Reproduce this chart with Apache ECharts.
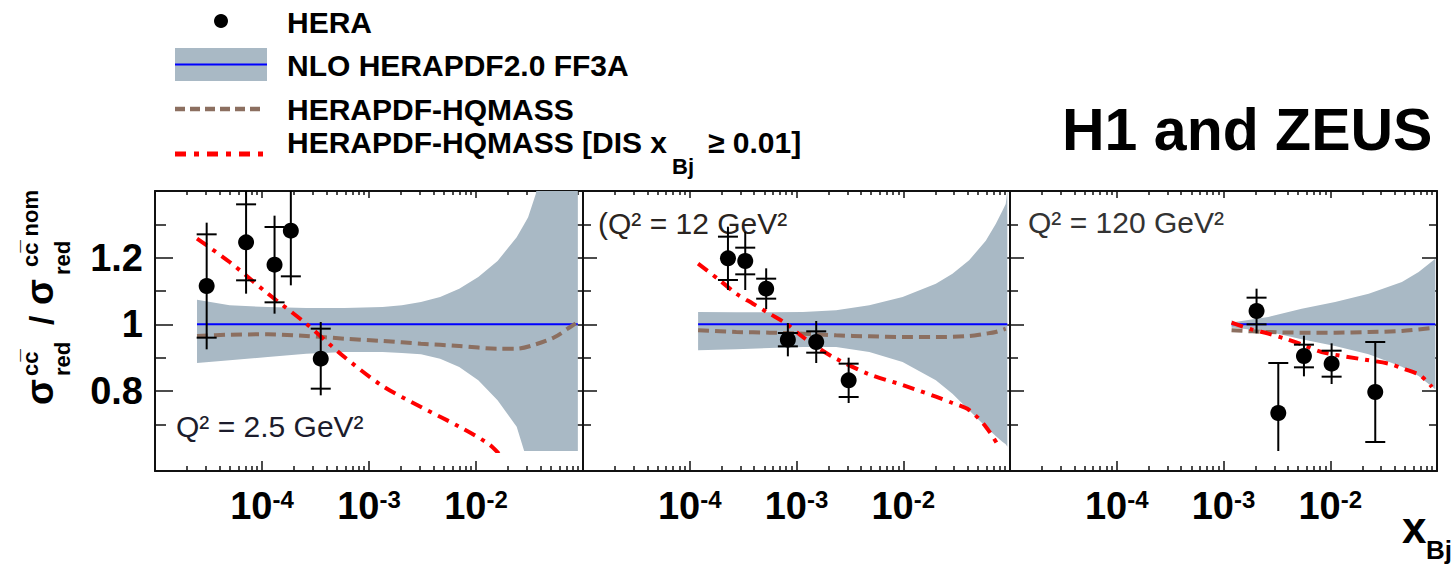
<!DOCTYPE html>
<html><head><meta charset="utf-8">
<script src="https://cdn.jsdelivr.net/npm/echarts@6/dist/echarts.min.js"></script>
<style>html,body{margin:0;padding:0;background:#fff}#c{width:1451px;height:566px}</style>
</head><body><div id="c"></div>
<script>
// ================= DATA =================
const panelLabels = ['Q\u00B2 = 2.5 GeV\u00B2', '(Q\u00B2 = 12 GeV\u00B2', 'Q\u00B2 = 120 GeV\u00B2'];
const legendLabels = ['HERA', 'NLO HERAPDF2.0 FF3A', 'HERAPDF-HQMASS', 'HERAPDF-HQMASS [DIS x', 'Bj', '\u2265 0.01]'];
const chartTitle = 'H1 and ZEUS';
const xTickValues = [1e-4, 1e-3, 1e-2];
const xTickExponents = ['-4', '-3', '-2'];
const yMajorTicks = [0.8, 1.0, 1.2];
const yTickLabels = ['0.8', '1', '1.2'];
const yMinorTicks = [0.7, 0.9, 1.1, 1.3];
const nomRatio = 1;

// Q2 = 2.5
const p1PointX = [3.04e-5, 7.1e-5, 1.31e-4, 1.86e-4, 3.54e-4];
const p1PointY = [1.115, 1.246, 1.179, 1.281, 0.897];
const p1PointStat = [0.155, 0.114, 0.113, 0.137, 0.09];
const p1PointTot = [0.19, 0.154, 0.147, 0.164, 0.11];
const p1BandX = [2.47e-5, 4.98e-5, 1.135e-4, 2.59e-4, 5.89e-4, 1.34e-3, 2.03e-3, 3.06e-3, 4.62e-3, 6.97e-3, 1.05e-2, 1.59e-2, 2.40e-2, 2.82e-2, 3.07e-2, 3.62e-2, 8.95e-2];
const p1BandHi = [1.074, 1.057, 1.052, 1.049, 1.049, 1.052, 1.057, 1.067, 1.082, 1.107, 1.142, 1.19, 1.261, 1.30, 1.321, 1.391, 2.2];
const p1BandLo = [0.884, 0.892, 0.902, 0.912, 0.917, 0.917, 0.914, 0.91, 0.897, 0.872, 0.832, 0.772, 0.693, 0.62, 0.58, 0.5, 0.2];
const p1HqX = [2.47e-5, 4.98e-5, 1.135e-4, 2.59e-4, 5.89e-4, 1.34e-3, 3.06e-3, 6.97e-3, 1.59e-2, 2.40e-2, 3.62e-2, 5.46e-2, 7.59e-2, 8.95e-2];
const p1HqY = [0.965, 0.969, 0.97, 0.965, 0.957, 0.95, 0.942, 0.935, 0.927, 0.927, 0.94, 0.962, 0.992, 1.007];
const p1DisX = [2.47e-5, 4.98e-5, 1.135e-4, 2.59e-4, 5.89e-4, 1.34e-3, 3.06e-3, 6.97e-3, 1.35e-2, 1.88e-2];
const p1DisY = [1.257, 1.187, 1.092, 1.002, 0.902, 0.815, 0.752, 0.693, 0.638, 0.59];

// Q2 = 12
const p2PointX = [2.28e-4, 3.31e-4, 5.2e-4, 8.3e-4, 1.53e-3, 3.08e-3];
const p2PointY = [1.198, 1.19, 1.107, 0.954, 0.947, 0.832];
const p2PointStat = [0.065, 0.04, 0.03, 0.02, 0.032, 0.05];
const p2PointTot = [0.095, 0.087, 0.061, 0.05, 0.063, 0.068];
const p2BandX = [1.197e-4, 2.73e-4, 5.60e-4, 1.146e-3, 2.35e-3, 4.81e-3, 9.86e-3, 2.02e-2, 2.89e-2, 4.14e-2, 5.93e-2, 7.35e-2, 8.47e-2, 9.12e-2, 9.44e-2];
const p2BandHi = [1.037, 1.036, 1.036, 1.037, 1.042, 1.057, 1.082, 1.122, 1.152, 1.192, 1.251, 1.301, 1.34, 1.361, 1.40];
const p2BandLo = [0.922, 0.925, 0.929, 0.932, 0.932, 0.917, 0.887, 0.832, 0.792, 0.742, 0.693, 0.665, 0.648, 0.64, 0.633];
const p2HqX = [1.197e-4, 2.73e-4, 5.60e-4, 1.146e-3, 2.35e-3, 4.81e-3, 9.86e-3, 2.02e-2, 4.14e-2, 5.93e-2, 7.35e-2, 9.12e-2];
const p2HqY = [0.982, 0.977, 0.975, 0.972, 0.967, 0.964, 0.962, 0.962, 0.965, 0.972, 0.977, 0.987];
const p2DisX = [1.197e-4, 1.91e-4, 2.73e-4, 3.91e-4, 5.60e-4, 8.02e-4, 1.146e-3, 1.64e-3, 2.35e-3, 4.81e-3, 9.86e-3, 2.02e-2, 2.89e-2, 4.14e-2, 5.93e-2, 7.88e-2];
const p2DisY = [1.182, 1.132, 1.092, 1.062, 1.032, 1.002, 0.962, 0.927, 0.897, 0.85, 0.818, 0.783, 0.764, 0.743, 0.693, 0.633];

// Q2 = 120
const p3PointX = [2.04e-3, 3.26e-3, 5.67e-3, 1.03e-2, 2.64e-2];
const p3PointY = [1.04, 0.734, 0.905, 0.882, 0.797];
const p3PointStat = [0.04, 0.15, 0.034, 0.039, 0.15];
const p3PointTot = [0.067, 0.15, 0.061, 0.061, 0.15];
const p3BandX = [1.19e-3, 1.28e-3, 2.63e-3, 5.40e-3, 1.11e-2, 2.29e-2, 4.69e-2, 6.73e-2, 9.64e-2];
const p3BandHi = [1.012, 1.007, 1.022, 1.047, 1.067, 1.092, 1.127, 1.157, 1.197];
const p3BandLo = [0.99, 0.99, 0.978, 0.955, 0.935, 0.91, 0.873, 0.845, 0.805];
const p3HqX = [1.19e-3, 2.63e-3, 5.40e-3, 1.11e-2, 2.29e-2, 4.69e-2, 9.64e-2];
const p3HqY = [0.982, 0.977, 0.975, 0.975, 0.977, 0.98, 0.99];
const p3DisX = [1.19e-3, 1.83e-3, 2.63e-3, 3.77e-3, 5.40e-3, 8.3e-3, 1.84e-2, 3.52e-2, 5.04e-2, 6.97e-2, 8.97e-2];
const p3DisY = [1.005, 0.985, 0.972, 0.957, 0.94, 0.917, 0.897, 0.882, 0.865, 0.847, 0.812];

// ================= STYLE / LAYOUT =================
const FONT = '"Liberation Sans", Arial, Helvetica, sans-serif';
const BAND = '#a9b9c5', BLUE = '#0000ff', BROWN = '#8c6f60', RED = '#ff0000', AX = '#111';
const panelLeft = [155, 583, 1010], panelRight = [583, 1010, 1437];
const plotTop = 191, plotBottom = 451, axisBottom = 471;
const yRange = [0.62, 1.4];
const lg = Math.log10;

const panels = [
  {label: panelLabels[0], ptX: p1PointX, ptY: p1PointY, st: p1PointStat, tot: p1PointTot, bX: p1BandX, bHi: p1BandHi, bLo: p1BandLo, hqX: p1HqX, hqY: p1HqY, dX: p1DisX, dY: p1DisY},
  {label: panelLabels[1], ptX: p2PointX, ptY: p2PointY, st: p2PointStat, tot: p2PointTot, bX: p2BandX, bHi: p2BandHi, bLo: p2BandLo, hqX: p2HqX, hqY: p2HqY, dX: p2DisX, dY: p2DisY},
  {label: panelLabels[2], ptX: p3PointX, ptY: p3PointY, st: p3PointStat, tot: p3PointTot, bX: p3BandX, bHi: p3BandHi, bLo: p3BandLo, hqX: p3HqX, hqY: p3HqY, dX: p3DisX, dY: p3DisY}
];

const minorX = [];
for (let n = -5; n <= -2; n++) for (let k = 2; k <= 9; k++) minorX.push(n + lg(k));

const grids = [], xAxes = [], yAxes = [], series = [];
const tickStyle = {color: AX, width: 1.5};
const noSplit = {show: false};

function xFmt(v) {
  const i = xTickValues.findIndex(t => Math.abs(lg(t) - v) < 1e-6);
  return i < 0 ? '' : '{b|10}{s|' + xTickExponents[i] + '}';
}
function yFmt(v) {
  const i = yMajorTicks.findIndex(t => Math.abs(t - v) < 1e-6);
  return i < 0 ? '' : yTickLabels[i];
}
const pairs = (xs, ys) => xs.map((x, i) => [lg(x), ys[i]]);

panels.forEach((P, p) => {
  const L = panelLeft[p], W = panelRight[p] - L;
  const gMain = grids.length;
  grids.push({left: L, top: plotTop, width: W, height: plotBottom - plotTop, outerBoundsMode: 'none', containLabel: false});
  const gStrip = grids.length;
  grids.push({left: L, top: plotBottom, width: W, height: axisBottom - plotBottom, outerBoundsMode: 'none', containLabel: false});

  const xBase = {type: 'value', min: -5, max: -1, interval: 1, splitLine: noSplit};
  const xMain = xAxes.length;
  xAxes.push(Object.assign({}, xBase, {gridIndex: gMain, position: 'top',
    axisLine: {show: true, lineStyle: {color: AX, width: 2}},
    axisTick: {show: true, inside: true, length: 7, lineStyle: tickStyle}, axisLabel: {show: false}}));
  xAxes.push(Object.assign({}, xBase, {gridIndex: gMain, position: 'top',
    axisLine: {show: false},
    axisTick: {show: true, inside: true, length: 4, customValues: minorX, lineStyle: tickStyle}, axisLabel: {show: false}}));
  xAxes.push(Object.assign({}, xBase, {gridIndex: gStrip, position: 'bottom',
    axisLine: {show: true, lineStyle: {color: AX, width: 2}},
    axisTick: {show: true, inside: true, length: 10, lineStyle: tickStyle},
    axisLabel: {show: true, margin: 16, formatter: xFmt, showMinLabel: true, showMaxLabel: true,
      rich: {b: {fontSize: 38, fontWeight: 'bold', fontFamily: FONT, color: '#000'},
             s: {fontSize: 24, fontWeight: 'bold', fontFamily: FONT, color: '#000', verticalAlign: 'top'}}}}));
  xAxes.push(Object.assign({}, xBase, {gridIndex: gStrip, position: 'bottom',
    axisLine: {show: false},
    axisTick: {show: true, inside: true, length: 5, customValues: minorX, lineStyle: tickStyle}, axisLabel: {show: false}}));

  const yBase = {type: 'value', min: yRange[0], max: yRange[1], splitLine: noSplit, gridIndex: gMain};
  const yMain = yAxes.length;
  yAxes.push(Object.assign({}, yBase, {position: 'left',
    axisLine: {show: true, lineStyle: {color: AX, width: 2}},
    axisTick: {show: true, inside: true, length: p === 0 ? 18 : 14, customValues: yMajorTicks, lineStyle: tickStyle},
    axisLabel: {show: p === 0, customValues: yMajorTicks, formatter: yFmt, margin: 12, fontSize: 38, fontWeight: 'bold', fontFamily: FONT, color: '#000'}}));
  yAxes.push(Object.assign({}, yBase, {position: 'left', axisLine: {show: false},
    axisTick: {show: true, inside: true, length: p === 0 ? 11 : 8, customValues: yMinorTicks, lineStyle: tickStyle}, axisLabel: {show: false}}));
  yAxes.push(Object.assign({}, yBase, {position: 'right',
    axisLine: {show: true, lineStyle: {color: AX, width: 2}},
    axisTick: {show: true, inside: true, length: p === 0 ? 18 : 15, customValues: yMajorTicks, lineStyle: tickStyle}, axisLabel: {show: false}}));
  yAxes.push(Object.assign({}, yBase, {position: 'right', axisLine: {show: false},
    axisTick: {show: true, inside: true, length: p === 0 ? 10 : 8, customValues: yMinorTicks, lineStyle: tickStyle}, axisLabel: {show: false}}));
  ['left', 'right'].forEach(pos => yAxes.push({type: 'value', gridIndex: gStrip, position: pos, min: 0, max: 1,
    axisLine: {show: true, lineStyle: {color: AX, width: 2}}, axisTick: {show: false}, axisLabel: {show: false}, splitLine: noSplit}));

  const ax = {xAxisIndex: xMain, yAxisIndex: yMain};
  // uncertainty band
  series.push(Object.assign({type: 'custom', name: legendLabels[1] + ' band', clip: true, silent: true, z: 1,
    encode: {x: 0, y: [1, 2]},
    data: P.bX.map((x, i) => [lg(x), P.bLo[i], P.bHi[i]]),
    renderItem: (params, api) => {
      if (params.dataIndex !== 0) return null;
      const pts = [];
      P.bX.forEach((x, i) => pts.push(api.coord([lg(x), P.bHi[i]])));
      for (let i = P.bX.length - 1; i >= 0; i--) pts.push(api.coord([lg(P.bX[i]), P.bLo[i]]));
      return {type: 'polygon', shape: {points: pts}, style: {fill: BAND}};
    }}, ax));
  // central
  series.push(Object.assign({type: 'line', name: legendLabels[1], symbol: 'none', z: 3, silent: true,
    data: [[lg(P.bX[0]), nomRatio], [lg(P.bX[P.bX.length - 1]), nomRatio]],
    lineStyle: {color: BLUE, width: 2}}, ax));
  series.push(Object.assign({type: 'line', name: legendLabels[2], symbol: 'none', z: 4, smooth: 0.3, silent: true,
    data: pairs(P.hqX, P.hqY), lineStyle: {color: BROWN, width: 4, type: [11, 6]}}, ax));
  series.push(Object.assign({type: 'line', name: legendLabels[3] + ' ' + legendLabels[4] + ' ' + legendLabels[5], symbol: 'none', z: 5, smooth: 0.3, silent: true,
    data: pairs(P.dX, P.dY), lineStyle: {color: RED, width: 4, type: [12, 7, 4, 7]}}, ax));
  // error bars
  series.push(Object.assign({type: 'custom', name: 'HERA errors', clip: true, z: 6, silent: true,
    encode: {x: 0, y: 1},
    data: P.ptX.map((x, i) => [lg(x), P.ptY[i], P.st[i], P.tot[i]]),
    renderItem: (params, api) => {
      const x = api.value(0), y = api.value(1), s = api.value(2), t = api.value(3);
      const a = api.coord([x, y + t]), b = api.coord([x, y - t]);
      const sh = api.coord([x, y + s]), sl = api.coord([x, y - s]);
      const st = {stroke: '#000', lineWidth: 2};
      return {type: 'group', children: [
        {type: 'line', shape: {x1: a[0], y1: a[1], x2: b[0], y2: b[1]}, style: st},
        {type: 'line', shape: {x1: sh[0] - 10, y1: sh[1], x2: sh[0] + 10, y2: sh[1]}, style: st},
        {type: 'line', shape: {x1: sl[0] - 10, y1: sl[1], x2: sl[0] + 10, y2: sl[1]}, style: st}
      ]};
    }}, ax));
  series.push(Object.assign({type: 'scatter', name: legendLabels[0], symbol: 'circle', symbolSize: 16, z: 7, silent: true,
    data: pairs(P.ptX, P.ptY), itemStyle: {color: '#000', opacity: 1}}, ax));
});

// ================= ANNOTATIONS =================
function txt(x, y, text, font, color, extra) {
  return Object.assign({type: 'text', x: x, y: y, silent: true,
    style: {text: text, font: font, fill: color || '#000', align: 'left', verticalAlign: 'middle', textAlign: 'left', textVerticalAlign: 'middle'}}, extra || {});
}
const B30 = 'bold 30px ' + FONT;
const cen = (base, fs) => base - 0.3465 * fs;
const graphics = [
  // legend
  {type: 'circle', shape: {cx: 221, cy: 21, r: 7}, style: {fill: '#000'}, silent: true},
  {type: 'rect', shape: {x: 175, y: 48, width: 92, height: 33}, style: {fill: BAND}, silent: true},
  {type: 'line', shape: {x1: 175, y1: 64.5, x2: 267, y2: 64.5}, style: {stroke: BLUE, lineWidth: 2}, silent: true},
  {type: 'line', shape: {x1: 175, y1: 109, x2: 265, y2: 109}, style: {stroke: BROWN, lineWidth: 4.5, lineDash: [10, 5]}, silent: true},
  {type: 'line', shape: {x1: 175, y1: 154, x2: 268, y2: 154}, style: {stroke: RED, lineWidth: 5, lineDash: [11, 8, 5, 8]}, silent: true},
  txt(287, 22.5, legendLabels[0], B30),
  txt(287, 65.5, legendLabels[1], B30),
  txt(287, 109, legendLabels[2], B30),
  txt(287, 142.5, legendLabels[3], B30),
  txt(672, 166.5, legendLabels[4], 'bold 22px ' + FONT),
  txt(708, 142.5, legendLabels[5], B30),
  // title
  txt(1062, 129.5, chartTitle, 'bold 59px ' + FONT),
  // panel labels
  txt(176, 426, panels[0].label, '30px ' + FONT, '#1c1c2c'),
  txt(598, 223, panels[1].label, '30px ' + FONT, '#2a2420'),
  txt(1028, 222, panels[2].label, '30px ' + FONT, '#333'),
  // x axis title
  txt(1402, 527, 'x', 'bold 44px ' + FONT),
  txt(1426, 550, 'Bj', 'bold 26px ' + FONT),
  // y axis title (rotated)
  {type: 'group', x: 53, y: 405, rotation: Math.PI / 2, silent: true, children: [
    txt(0, cen(0, 38), '\u03C3', 'bold 38px ' + FONT),
    txt(29, cen(-15, 22), 'cc\u0305', 'bold 22px ' + FONT),
    txt(29, cen(17, 22), 'red', 'bold 22px ' + FONT),
    txt(80, cen(0, 34), '/', 'bold 34px ' + FONT),
    txt(100, cen(0, 38), '\u03C3', 'bold 38px ' + FONT),
    txt(130, cen(17, 22), 'red', 'bold 22px ' + FONT),
    txt(138, cen(-15, 22), 'cc\u0305 nom', 'bold 22px ' + FONT)
  ]}
];

const chart = echarts.init(document.getElementById('c'), null, {renderer: 'svg', width: 1451, height: 566});
chart.setOption({
  animation: false,
  backgroundColor: '#fff',
  grid: grids,
  xAxis: xAxes,
  yAxis: yAxes,
  series: series,
  graphic: {elements: graphics}
});
</script>
</body></html>
